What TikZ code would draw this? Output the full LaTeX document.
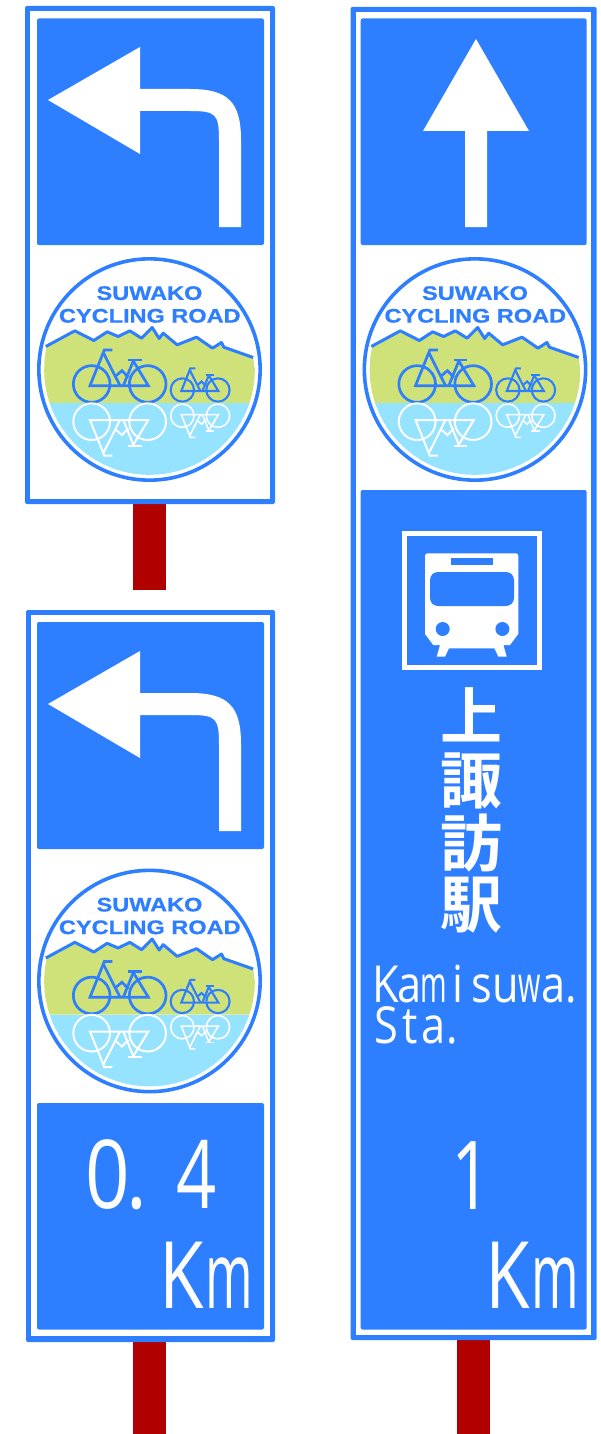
\documentclass[tikz,border=0pt]{standalone}
\usepackage{fontspec}
\setmainfont{Liberation Sans}
\newfontfamily\cjkf{Noto Sans CJK JP}[UprightFont=* Bold]
\newfontfamily\regf{Open Sans}
\newfontfamily\logof{Liberation Sans Bold}[FakeBold=0.7]
\definecolor{signblue}{HTML}{2E7FFF}
\definecolor{postred}{HTML}{B00000}
\definecolor{hillgreen}{HTML}{CFE27A}
\definecolor{lakeblue}{HTML}{96E3FF}
\tikzset{
  x=1pt,y=-1pt,
  panel/.style={fill=signblue,rounded corners=2pt},
  outerplate/.style={fill=signblue,rounded corners=2pt},
  innerplate/.style={fill=white},
  post/.style={fill=postred},
  glyph/.style={fill=white},
  label/.style={inner sep=0pt,outer sep=0pt,text=white},
  logotext/.style={inner sep=0pt,outer sep=0pt,text=signblue,font=\logof\fontsize{19.6}{20}\selectfont},
  cjktext/.style={inner sep=0pt,outer sep=0pt,text=white,font=\cjkf\fontsize{62}{62}\selectfont},
}
% bicycle, drawn in the logo's 1/3-pixel units
\newcommand\bikepath[1]{%
  \draw[#1,line join=round] (95,132) circle[radius=55] (263,132) circle[radius=55];
  \draw[#1,line join=miter] (157,30) -- (133,30) -- (90,137) -- (265,137) -- (218,60);
  \draw[#1,line join=miter] (205,60) -- (245,60);
  \draw[#1,line join=miter] (130,38) -- (180,137);
  \draw[#1,line join=miter] (167,108) -- (186,92) -- (205,112);
  \draw[#1,line join=miter] (221,60) -- (190,137);
}
\newcommand\logo[3]{%
  \begin{scope}[shift={(#1,#2)},scale=1/3]
    \begin{scope}
      \clip (0,0) circle[radius=316];
      \fill[hillgreen] (-311,-69) -- (-224,-116) -- (-167,-87) -- (-127,-113) -- (-94,-99) -- (-59,-116) -- (-24,-94) -- (8,-126) -- (29,-93) -- (41,-109) -- (83,-74) -- (141,-97) -- (189,-64) -- (216,-81) -- (223,-67) -- (311,-36) -- (330,101) -- (-330,101) -- cycle;
      \fill[lakeblue] (-330,101) rectangle (330,330);
    \end{scope}
    \draw[signblue,line width=3pt,line join=round] (-311,-69) -- (-224,-116) -- (-167,-87) -- (-127,-113) -- (-94,-99) -- (-59,-116) -- (-24,-94) -- (8,-126) -- (29,-93) -- (41,-109) -- (83,-74) -- (141,-97) -- (189,-64) -- (216,-81) -- (223,-67) -- (311,-36);
    \draw[signblue,line width=3.6pt] (0,0) circle[radius=332];
    \begin{scope}[shift={(-268.5,-88.5)}]
      \bikepath{signblue,line width=2.7pt}
      \begin{scope}[shift={(306.6,66)},scale=.636]
        \bikepath{signblue,line width=2.1pt}
      \end{scope}
      \begin{scope}[yscale=-1,shift={(0,-377)}]
        \bikepath{white,line width=2pt}
        \begin{scope}[shift={(306.6,66)},scale=.636]
          \bikepath{white,line width=1.6pt}
        \end{scope}
      \end{scope}
    \end{scope}
    \node[logotext] (#3a) at (0,-229) {\scalebox{1.2}[1]{SUWAKO}};
    \node[logotext] (#3b) at (1,-161) {\scalebox{1.2}[1]{CYCLING ROAD}};
  \end{scope}
}
\newcommand\leftarrowsign[1]{%
  \fill[glyph,shift={(0,#1)}] (48,100) -- (140,47) -- (140,89) -- (190,89)
    .. controls (228,89) and (241,102) .. (241,140) -- (241,227) -- (219,227) -- (219,140)
    .. controls (219,114) and (216,111) .. (190,111) -- (140,111) -- (140,154) -- cycle;
}
\newcommand\kmtext[3]{%
  \node[label,anchor=base west] (#3) at (#1,#2) {\regf\fontsize{93}{93}\selectfont\scalebox{.78}[1]{K}\kern2pt\scalebox{.55}[1]{m}};
}
\newcommand\mc[1]{\makebox[28.2pt][c]{#1}}
\newcommand\mn[1]{\makebox[28.2pt][c]{\scalebox{.66}[1]{#1}}}
\begin{document}
\begin{tikzpicture}
\useasboundingbox[fill=white] (0,0) rectangle (601,1434);
% posts
\fill[post] (133,504) rectangle (166,590);
\fill[post] (133,1341) rectangle (166,1434);
\fill[post] (457,1339) rectangle (489.5,1434);
% top-left sign
\fill[outerplate] (25,6) rectangle (275,504);
\fill[innerplate] (30,11) rectangle (270,498.5);
\fill[panel] (37,18.5) rectangle (264,245);
\leftarrowsign{0}
\logo{149.5}{369.5}{la}
% bottom-left sign
\fill[outerplate] (26,610) rectangle (275,1342);
\fill[innerplate] (31,615) rectangle (270,1336);
\fill[panel] (37,622) rectangle (264,849);
\leftarrowsign{604}
\logo{149.5}{981}{lb}
\fill[panel] (37,1103) rectangle (264,1329.5);
\node[label,anchor=base west] (dist) at (85,1208) {\regf\fontsize{95}{95}\selectfont\scalebox{.82}[1]{0}\kern-3pt\scalebox{.82}[1]{.}\ \kern5pt\scalebox{.74}[1]{4}};
\kmtext{159}{1308}{kml}
% right sign
\fill[outerplate] (350.5,7) rectangle (596.7,1340);
\fill[innerplate] (356,12.5) rectangle (591,1334.5);
\fill[panel] (360.7,18.5) rectangle (586.7,245);
\fill[glyph] (476,39) -- (529,131) -- (487,131) -- (487,227) -- (465,227) -- (465,131) -- (423,131) -- cycle;
\logo{475}{369.5}{lc}
\fill[panel] (360.7,490) rectangle (586.7,1329.5);
% train symbol
\draw[white,line width=5pt] (404.8,533.5) rectangle (539.2,667.8);
\fill[glyph] (425,634) -- (425,556) .. controls (425,554) and (426,553.3) .. (428,553.3) -- (515.3,553.3) .. controls (517.3,553.3) and (518.3,554) .. (518.3,556) -- (518.3,634) -- (510,645) -- (503.4,645) -- (506.7,656.7) -- (498.4,656.7) -- (494.4,648.3) -- (449,648.3) -- (445,656.7) -- (436.7,656.7) -- (440,645) -- (433.3,645) -- cycle;
\fill[signblue] (450.5,557.5) rectangle (492.5,565);
\fill[signblue,rounded corners=8pt] (430,572) rectangle (514,606);
\fill[signblue] (442.7,629) circle[radius=7] (502.4,629) circle[radius=7];
% station name
\node[cjktext] (k1) at (471,715) {上};
\node[cjktext] (k2) at (471,781) {諏};
\node[cjktext] (k3) at (471,843) {訪};
\node[cjktext] (k4) at (471,905) {駅};
\node[label,anchor=base west,align=left,font=\regf\fontsize{51}{41}\selectfont] (en1) at (374,1043) {\scalebox{.85}[1]{\mc{K}\mc{a}\mn{m}\mc{i}\mc{s}\mc{u}\mn{w}\mc{a}\kern-8pt\mc{.}}\\\scalebox{.85}[1]{\mc{S}\mc{t}\mc{a}\kern-7pt\mc{.}}};
\node[label,anchor=base] (dist2) at (472,1209) {\regf\fontsize{95}{95}\selectfont\scalebox{.74}[1]{1}};
\kmtext{485}{1308}{kmr}
\end{tikzpicture}
\end{document}
